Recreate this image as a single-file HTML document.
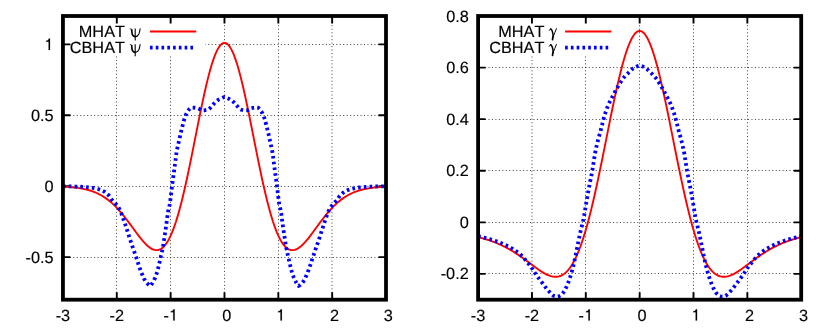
<!DOCTYPE html>
<html><head><meta charset="utf-8"><title>wavelets</title>
<style>html,body{margin:0;padding:0;background:#fff}svg{display:block;will-change:transform}text{font-family:"Liberation Sans",sans-serif;font-size:16.3px;fill:#000;font-kerning:none;text-rendering:geometricPrecision;stroke:#000;stroke-width:0.14px}.one{fill:#000;stroke:#000;stroke-width:8}</style></head><body>
<svg width="830" height="332" viewBox="0 0 830 332">
<rect x="0" y="0" width="830" height="332" fill="#fff"/>
<path d="M116.5,299.7 V16 M170.5,299.7 V16 M224.5,299.7 V16 M278.5,299.7 V16 M332,299.7 V16 M62.95,257.5 H386 M62.95,186.5 H386 M62.95,115.5 H386 M62.95,44.5 H386" fill="none" stroke="#000" stroke-width="0.72" stroke-dasharray="1.05 2.41"/>
<rect x="62.95" y="16" width="142.5" height="40" fill="#fff"/>
<path d="M116.79,299.7 v-7.5 M116.79,16 v7.5 M170.63,299.7 v-7.5 M170.63,16 v7.5 M224.48,299.7 v-7.5 M224.48,16 v7.5 M278.32,299.7 v-7.5 M278.32,16 v7.5 M332.16,299.7 v-7.5 M332.16,16 v7.5 M62.95,257.14 h7.5 M386,257.14 h-7.5 M62.95,186.22 h7.5 M386,186.22 h-7.5 M62.95,115.29 h7.5 M386,115.29 h-7.5 M62.95,44.37 h7.5 M386,44.37 h-7.5" fill="none" stroke="#000" stroke-width="1.9"/>
<clipPath id="c1"><rect x="62.95" y="16" width="323.05" height="283.7"/></clipPath>
<g clip-path="url(#c1)">
<path d="M62.95,186.69 L64.3,186.76 L65.64,186.82 L66.99,186.9 L68.33,186.99 L69.68,187.08 L71.03,187.19 L72.37,187.31 L73.72,187.44 L75.06,187.58 L76.41,187.74 L77.76,187.92 L79.1,188.11 L80.45,188.33 L81.79,188.56 L83.14,188.82 L84.49,189.1 L85.83,189.4 L87.18,189.74 L88.52,190.1 L89.87,190.49 L91.22,190.92 L92.56,191.38 L93.91,191.88 L95.26,192.42 L96.6,193 L97.95,193.62 L99.29,194.29 L100.64,195.01 L101.99,195.77 L103.33,196.59 L104.68,197.46 L106.02,198.38 L107.37,199.36 L108.72,200.39 L110.06,201.48 L111.41,202.64 L112.75,203.85 L114.1,205.11 L115.45,206.44 L116.79,207.83 L118.14,209.27 L119.48,210.77 L120.83,212.32 L122.18,213.92 L123.52,215.57 L124.87,217.26 L126.21,218.99 L127.56,220.76 L128.91,222.56 L130.25,224.38 L131.6,226.21 L132.94,228.05 L134.29,229.9 L135.64,231.73 L136.98,233.55 L138.33,235.33 L139.67,237.08 L141.02,238.77 L142.37,240.4 L143.71,241.95 L145.06,243.41 L146.4,244.77 L147.75,246.01 L149.1,247.12 L150.44,248.08 L151.79,248.88 L153.13,249.5 L154.48,249.93 L155.83,250.16 L157.17,250.17 L158.52,249.95 L159.87,249.48 L161.21,248.75 L162.56,247.76 L163.9,246.48 L165.25,244.92 L166.6,243.07 L167.94,240.91 L169.29,238.44 L170.63,235.66 L171.98,232.57 L173.33,229.17 L174.67,225.45 L176.02,221.43 L177.36,217.1 L178.71,212.49 L180.06,207.59 L181.4,202.42 L182.75,196.99 L184.09,191.32 L185.44,185.43 L186.79,179.33 L188.13,173.06 L189.48,166.63 L190.82,160.07 L192.17,153.41 L193.52,146.68 L194.86,139.9 L196.21,133.11 L197.55,126.34 L198.9,119.62 L200.25,112.99 L201.59,106.48 L202.94,100.12 L204.28,93.95 L205.63,87.99 L206.98,82.29 L208.32,76.87 L209.67,71.76 L211.01,66.99 L212.36,62.59 L213.71,58.58 L215.05,54.99 L216.4,51.83 L217.74,49.12 L219.09,46.89 L220.44,45.14 L221.78,43.88 L223.13,43.12 L224.48,42.87 L225.82,43.12 L227.17,43.88 L228.51,45.14 L229.86,46.89 L231.21,49.12 L232.55,51.83 L233.9,54.99 L235.24,58.58 L236.59,62.59 L237.94,66.99 L239.28,71.76 L240.63,76.87 L241.97,82.29 L243.32,87.99 L244.67,93.95 L246.01,100.12 L247.36,106.48 L248.7,112.99 L250.05,119.62 L251.4,126.34 L252.74,133.11 L254.09,139.9 L255.43,146.68 L256.78,153.41 L258.13,160.07 L259.47,166.63 L260.82,173.06 L262.16,179.33 L263.51,185.43 L264.86,191.32 L266.2,196.99 L267.55,202.42 L268.89,207.59 L270.24,212.49 L271.59,217.1 L272.93,221.43 L274.28,225.45 L275.62,229.17 L276.97,232.57 L278.32,235.66 L279.66,238.44 L281.01,240.91 L282.35,243.07 L283.7,244.92 L285.05,246.48 L286.39,247.76 L287.74,248.75 L289.09,249.48 L290.43,249.95 L291.78,250.17 L293.12,250.16 L294.47,249.93 L295.82,249.5 L297.16,248.88 L298.51,248.08 L299.85,247.12 L301.2,246.01 L302.55,244.77 L303.89,243.41 L305.24,241.95 L306.58,240.4 L307.93,238.77 L309.28,237.08 L310.62,235.33 L311.97,233.55 L313.31,231.73 L314.66,229.9 L316.01,228.05 L317.35,226.21 L318.7,224.38 L320.04,222.56 L321.39,220.76 L322.74,218.99 L324.08,217.26 L325.43,215.57 L326.77,213.92 L328.12,212.32 L329.47,210.77 L330.81,209.27 L332.16,207.83 L333.5,206.44 L334.85,205.11 L336.2,203.85 L337.54,202.64 L338.89,201.48 L340.23,200.39 L341.58,199.36 L342.93,198.38 L344.27,197.46 L345.62,196.59 L346.96,195.77 L348.31,195.01 L349.66,194.29 L351,193.62 L352.35,193 L353.7,192.42 L355.04,191.88 L356.39,191.38 L357.73,190.92 L359.08,190.49 L360.43,190.1 L361.77,189.74 L363.12,189.4 L364.46,189.1 L365.81,188.82 L367.16,188.56 L368.5,188.33 L369.85,188.11 L371.19,187.92 L372.54,187.74 L373.89,187.58 L375.23,187.44 L376.58,187.31 L377.92,187.19 L379.27,187.08 L380.62,186.99 L381.96,186.9 L383.31,186.82 L384.65,186.76 L386,186.69" fill="none" stroke="#f00" stroke-width="1.9" stroke-linejoin="round"/>
<path d="M63,186.3 L64,186.3 L65,186.31 L66,186.32 L67,186.33 L68,186.35 L68.99,186.37 L69.99,186.39 L70.99,186.42 L71.99,186.44 L72.99,186.47 L73.99,186.5 L74.98,186.53 L75.98,186.57 L76.98,186.6 L77.98,186.63 L78.98,186.68 L79.98,186.72 L80.98,186.77 L81.98,186.83 L82.97,186.89 L83.97,186.96 L84.97,187.04 L85.97,187.12 L86.96,187.2 L87.95,187.3 L88.94,187.39 L89.93,187.5 L90.93,187.63 L91.93,187.78 L92.94,187.94 L93.94,188.13 L94.94,188.33 L95.94,188.55 L96.92,188.78 L97.89,189.03 L98.84,189.3 L99.77,189.59 L100.68,189.89 L101.57,190.22 L102.46,190.62 L103.34,191.09 L104.22,191.62 L105.08,192.19 L105.91,192.81 L106.72,193.46 L107.49,194.13 L108.22,194.82 L108.91,195.51 L109.53,196.24 L110.09,197.06 L110.62,197.93 L111.15,198.8 L111.71,199.63 L112.35,200.39 L113.05,201.1 L113.79,201.78 L114.52,202.48 L115.18,203.21 L115.83,203.97 L116.48,204.75 L117.1,205.54 L117.71,206.35 L118.29,207.17 L118.83,208.01 L119.32,208.86 L119.77,209.73 L120.2,210.62 L120.59,211.53 L120.97,212.45 L121.33,213.39 L121.68,214.33 L122.03,215.28 L122.36,216.23 L122.7,217.18 L123.04,218.12 L123.38,219.06 L123.72,220 L124.05,220.94 L124.37,221.89 L124.69,222.83 L125.01,223.78 L125.32,224.73 L125.64,225.68 L125.95,226.63 L126.26,227.58 L126.57,228.52 L126.88,229.47 L127.19,230.42 L127.49,231.38 L127.79,232.33 L128.09,233.28 L128.39,234.23 L128.69,235.19 L129,236.14 L129.3,237.09 L129.61,238.04 L129.93,238.99 L130.24,239.93 L130.56,240.88 L130.87,241.83 L131.19,242.77 L131.51,243.72 L131.84,244.66 L132.16,245.61 L132.48,246.56 L132.8,247.5 L133.13,248.45 L133.45,249.39 L133.77,250.34 L134.1,251.28 L134.42,252.23 L134.75,253.17 L135.07,254.11 L135.4,255.06 L135.72,256 L136.05,256.95 L136.36,257.89 L136.68,258.84 L136.98,259.79 L137.29,260.74 L137.59,261.7 L137.89,262.65 L138.2,263.6 L138.51,264.55 L138.83,265.5 L139.15,266.44 L139.48,267.38 L139.82,268.32 L140.15,269.27 L140.5,270.21 L140.85,271.14 L141.21,272.07 L141.58,273 L141.96,273.92 L142.36,274.84 L142.75,275.77 L143.15,276.71 L143.56,277.65 L143.99,278.57 L144.44,279.47 L144.92,280.34 L145.43,281.18 L145.97,281.97 L146.57,282.71 L147.24,283.43 L147.97,284.12 L148.74,284.77 L149.56,285.4 L150.4,286 L150.99,285.18 L151.57,284.36 L152.12,283.52 L152.65,282.67 L153.16,281.81 L153.64,280.94 L154.1,280.07 L154.52,279.18 L154.91,278.28 L155.29,277.36 L155.64,276.43 L155.98,275.49 L156.31,274.55 L156.62,273.59 L156.91,272.64 L157.2,271.68 L157.48,270.73 L157.74,269.77 L158,268.81 L158.24,267.84 L158.47,266.87 L158.7,265.9 L158.93,264.93 L159.15,263.96 L159.37,262.99 L159.6,262.02 L159.82,261.05 L160.04,260.08 L160.27,259.11 L160.49,258.14 L160.7,257.17 L160.92,256.19 L161.13,255.22 L161.35,254.25 L161.56,253.28 L161.77,252.3 L161.99,251.33 L162.2,250.36 L162.41,249.38 L162.61,248.41 L162.81,247.43 L162.99,246.46 L163.16,245.48 L163.33,244.49 L163.48,243.51 L163.64,242.53 L163.78,241.54 L163.93,240.56 L164.07,239.57 L164.22,238.59 L164.36,237.6 L164.51,236.62 L164.66,235.63 L164.81,234.65 L164.96,233.66 L165.11,232.68 L165.26,231.7 L165.41,230.71 L165.56,229.73 L165.71,228.74 L165.85,227.76 L166,226.77 L166.14,225.79 L166.29,224.8 L166.43,223.82 L166.56,222.83 L166.69,221.84 L166.81,220.85 L166.93,219.86 L167.05,218.87 L167.17,217.88 L167.29,216.9 L167.42,215.91 L167.55,214.92 L167.69,213.94 L167.84,212.95 L168,211.98 L168.19,211 L168.4,210.03 L168.64,209.06 L168.88,208.09 L169.13,207.12 L169.36,206.15 L169.58,205.18 L169.76,204.21 L169.92,203.23 L170.06,202.24 L170.2,201.25 L170.32,200.27 L170.44,199.28 L170.56,198.29 L170.69,197.3 L170.81,196.31 L170.93,195.32 L171.05,194.33 L171.17,193.35 L171.28,192.36 L171.4,191.37 L171.51,190.38 L171.63,189.39 L171.75,188.4 L171.87,187.41 L172,186.43 L172.12,185.44 L172.25,184.45 L172.38,183.47 L172.52,182.48 L172.65,181.49 L172.79,180.51 L172.92,179.52 L173.06,178.53 L173.19,177.55 L173.32,176.56 L173.46,175.57 L173.59,174.59 L173.72,173.6 L173.85,172.61 L173.98,171.63 L174.12,170.64 L174.25,169.65 L174.38,168.67 L174.51,167.68 L174.64,166.69 L174.77,165.71 L174.9,164.72 L175.04,163.73 L175.16,162.74 L175.29,161.76 L175.41,160.77 L175.53,159.78 L175.65,158.79 L175.78,157.8 L175.9,156.81 L176.03,155.82 L176.17,154.84 L176.31,153.85 L176.46,152.87 L176.62,151.89 L176.79,150.91 L176.98,149.93 L177.18,148.96 L177.39,147.99 L177.61,147.01 L177.83,146.04 L178.05,145.07 L178.27,144.1 L178.49,143.13 L178.71,142.16 L178.94,141.19 L179.17,140.22 L179.39,139.25 L179.6,138.28 L179.81,137.3 L180.01,136.33 L180.21,135.35 L180.42,134.38 L180.64,133.41 L180.88,132.44 L181.12,131.47 L181.36,130.51 L181.61,129.54 L181.85,128.58 L182.1,127.61 L182.33,126.65 L182.57,125.68 L182.81,124.71 L183.05,123.75 L183.3,122.78 L183.56,121.82 L183.82,120.86 L184.08,119.89 L184.36,118.93 L184.66,117.99 L184.98,117.05 L185.33,116.12 L185.71,115.18 L186.13,114.26 L186.57,113.35 L187.05,112.48 L187.56,111.66 L188.13,110.81 L188.76,109.87 L189.46,108.97 L190.2,108.22 L190.98,107.73 L191.8,107.6 L192.72,107.63 L193.72,107.68 L194.76,107.76 L195.81,107.86 L196.81,107.98 L197.75,108.19 L198.66,108.64 L199.56,109.2 L200.45,109.75 L201.35,110.19 L202.28,110.4 L203.25,110.38 L204.27,110.29 L205.31,110.16 L206.32,109.99 L207.28,109.78 L208.15,109.55 L208.94,109.14 L209.69,108.52 L210.39,107.75 L211.08,106.93 L211.76,106.1 L212.45,105.35 L213.14,104.62 L213.81,103.86 L214.47,103.1 L215.14,102.36 L215.84,101.66 L216.57,101.02 L217.36,100.44 L218.2,99.9 L219.07,99.39 L219.96,98.91 L220.85,98.47 L221.75,98.06 L222.67,97.67 L223.6,97.32 L224.55,97 L225.4,97.32 L226.33,97.67 L227.25,98.06 L228.15,98.47 L229.04,98.91 L229.93,99.39 L230.8,99.9 L231.64,100.44 L232.43,101.02 L233.16,101.66 L233.86,102.36 L234.53,103.1 L235.19,103.86 L235.86,104.62 L236.55,105.35 L237.24,106.1 L237.92,106.93 L238.61,107.75 L239.31,108.52 L240.06,109.14 L240.85,109.55 L241.72,109.78 L242.68,109.99 L243.69,110.16 L244.73,110.29 L245.75,110.38 L246.72,110.4 L247.65,110.19 L248.55,109.75 L249.44,109.2 L250.34,108.64 L251.25,108.19 L252.19,107.98 L253.19,107.86 L254.24,107.76 L255.28,107.68 L256.28,107.63 L257.2,107.6 L258.02,107.73 L258.8,108.22 L259.54,108.97 L260.24,109.87 L260.87,110.81 L261.44,111.66 L261.95,112.48 L262.43,113.35 L262.87,114.26 L263.29,115.18 L263.67,116.12 L264.02,117.05 L264.34,117.99 L264.64,118.93 L264.92,119.89 L265.18,120.86 L265.44,121.82 L265.7,122.78 L265.95,123.75 L266.19,124.71 L266.43,125.68 L266.67,126.65 L266.9,127.61 L267.15,128.58 L267.39,129.54 L267.64,130.51 L267.88,131.47 L268.12,132.44 L268.36,133.41 L268.58,134.38 L268.79,135.35 L268.99,136.33 L269.19,137.3 L269.4,138.28 L269.61,139.25 L269.83,140.22 L270.06,141.19 L270.29,142.16 L270.51,143.13 L270.73,144.1 L270.95,145.07 L271.17,146.04 L271.39,147.01 L271.61,147.99 L271.82,148.96 L272.02,149.93 L272.21,150.91 L272.38,151.89 L272.54,152.87 L272.69,153.85 L272.83,154.84 L272.97,155.82 L273.1,156.81 L273.22,157.8 L273.35,158.79 L273.47,159.78 L273.59,160.77 L273.71,161.76 L273.84,162.74 L273.96,163.73 L274.1,164.72 L274.23,165.71 L274.36,166.69 L274.49,167.68 L274.62,168.67 L274.75,169.65 L274.88,170.64 L275.02,171.63 L275.15,172.61 L275.28,173.6 L275.41,174.59 L275.54,175.57 L275.68,176.56 L275.81,177.55 L275.94,178.53 L276.08,179.52 L276.21,180.51 L276.35,181.49 L276.48,182.48 L276.62,183.47 L276.75,184.45 L276.88,185.44 L277,186.43 L277.13,187.41 L277.25,188.4 L277.37,189.39 L277.49,190.38 L277.6,191.37 L277.72,192.36 L277.83,193.35 L277.95,194.33 L278.07,195.32 L278.19,196.31 L278.31,197.3 L278.44,198.29 L278.56,199.28 L278.68,200.27 L278.8,201.25 L278.94,202.24 L279.08,203.23 L279.24,204.21 L279.42,205.18 L279.64,206.15 L279.87,207.12 L280.12,208.09 L280.36,209.06 L280.6,210.03 L280.81,211 L281,211.98 L281.16,212.95 L281.31,213.94 L281.45,214.92 L281.58,215.91 L281.71,216.9 L281.83,217.88 L281.95,218.87 L282.07,219.86 L282.19,220.85 L282.31,221.84 L282.44,222.83 L282.57,223.82 L282.71,224.8 L282.86,225.79 L283,226.77 L283.15,227.76 L283.29,228.74 L283.44,229.73 L283.59,230.71 L283.74,231.7 L283.89,232.68 L284.04,233.66 L284.19,234.65 L284.34,235.63 L284.49,236.62 L284.64,237.6 L284.78,238.59 L284.93,239.57 L285.07,240.56 L285.22,241.54 L285.36,242.53 L285.52,243.51 L285.67,244.49 L285.84,245.48 L286.01,246.46 L286.19,247.43 L286.39,248.41 L286.59,249.38 L286.8,250.36 L287.01,251.33 L287.23,252.3 L287.44,253.28 L287.65,254.25 L287.87,255.22 L288.08,256.19 L288.3,257.17 L288.51,258.14 L288.73,259.11 L288.96,260.08 L289.18,261.05 L289.4,262.02 L289.63,262.99 L289.85,263.96 L290.07,264.93 L290.3,265.9 L290.53,266.87 L290.76,267.84 L291,268.81 L291.26,269.77 L291.52,270.73 L291.8,271.68 L292.09,272.64 L292.38,273.59 L292.69,274.55 L293.02,275.49 L293.36,276.43 L293.71,277.36 L294.09,278.28 L294.48,279.18 L294.9,280.07 L295.36,280.94 L295.84,281.81 L296.35,282.67 L296.88,283.52 L297.43,284.36 L298.01,285.18 L298.6,286 L299.44,285.4 L300.26,284.77 L301.03,284.12 L301.76,283.43 L302.43,282.71 L303.03,281.97 L303.57,281.18 L304.08,280.34 L304.56,279.47 L305.01,278.57 L305.44,277.65 L305.85,276.71 L306.25,275.77 L306.64,274.84 L307.04,273.92 L307.42,273 L307.79,272.07 L308.15,271.14 L308.5,270.21 L308.85,269.27 L309.18,268.32 L309.52,267.38 L309.85,266.44 L310.17,265.5 L310.49,264.55 L310.8,263.6 L311.11,262.65 L311.41,261.7 L311.71,260.74 L312.02,259.79 L312.32,258.84 L312.64,257.89 L312.95,256.95 L313.28,256 L313.6,255.06 L313.93,254.11 L314.25,253.17 L314.58,252.23 L314.9,251.28 L315.23,250.34 L315.55,249.39 L315.87,248.45 L316.2,247.5 L316.52,246.56 L316.84,245.61 L317.16,244.66 L317.49,243.72 L317.81,242.77 L318.13,241.83 L318.44,240.88 L318.76,239.93 L319.07,238.99 L319.39,238.04 L319.7,237.09 L320,236.14 L320.31,235.19 L320.61,234.23 L320.91,233.28 L321.21,232.33 L321.51,231.38 L321.81,230.42 L322.12,229.47 L322.43,228.52 L322.74,227.58 L323.05,226.63 L323.36,225.68 L323.68,224.73 L323.99,223.78 L324.31,222.83 L324.63,221.89 L324.95,220.94 L325.28,220 L325.62,219.06 L325.96,218.12 L326.3,217.18 L326.64,216.23 L326.97,215.28 L327.32,214.33 L327.67,213.39 L328.03,212.45 L328.41,211.53 L328.8,210.62 L329.23,209.73 L329.68,208.86 L330.17,208.01 L330.71,207.17 L331.29,206.35 L331.9,205.54 L332.52,204.75 L333.17,203.97 L333.82,203.21 L334.48,202.48 L335.21,201.78 L335.95,201.1 L336.65,200.39 L337.29,199.63 L337.85,198.8 L338.38,197.93 L338.91,197.06 L339.47,196.24 L340.09,195.51 L340.78,194.82 L341.51,194.13 L342.28,193.46 L343.09,192.81 L343.92,192.19 L344.78,191.62 L345.66,191.09 L346.54,190.62 L347.43,190.22 L348.32,189.89 L349.23,189.59 L350.16,189.3 L351.11,189.03 L352.08,188.78 L353.06,188.55 L354.06,188.33 L355.06,188.13 L356.06,187.94 L357.07,187.78 L358.07,187.63 L359.07,187.5 L360.06,187.39 L361.05,187.3 L362.04,187.2 L363.03,187.12 L364.03,187.04 L365.03,186.96 L366.03,186.89 L367.02,186.83 L368.02,186.77 L369.02,186.72 L370.02,186.68 L371.02,186.63 L372.02,186.6 L373.02,186.57 L374.02,186.53 L375.01,186.5 L376.01,186.47 L377.01,186.44 L378.01,186.42 L379.01,186.39 L380.01,186.37 L381,186.35 L382,186.33 L383,186.32 L384,186.31 L385,186.3 L386,186.3" fill="none" stroke="#00f" stroke-width="3.8" stroke-dasharray="2.65 3.13" stroke-linejoin="round"/>
</g>
<rect x="62.95" y="16" width="323.05" height="283.7" fill="none" stroke="#000" stroke-width="3.8"/>
<text x="25.56" y="263.25">-0.5</text>
<text x="44.58" y="192.25">0</text>
<text x="30.99" y="121.25">0.5</text>
<path class="one" aria-label="1" transform="translate(44.18,49.95) scale(0.016300,-0.016300)" d="M359 0H271V505H122V568C205 574 256 609 289 702H359Z"/>
<text x="55.7" y="320.9">-3</text>
<text x="109.55" y="320.9">-2</text>
<text x="163.39" y="320.9">-</text>
<path class="one" aria-label="1" transform="translate(168.81,320.6) scale(0.016300,-0.016300)" d="M359 0H271V505H122V568C205 574 256 609 289 702H359Z"/>
<text x="222.2" y="320.9">0</text>
<path class="one" aria-label="1" transform="translate(276.04,320.6) scale(0.016300,-0.016300)" d="M359 0H271V505H122V568C205 574 256 609 289 702H359Z"/>
<text x="329.89" y="320.9">2</text>
<text x="383.73" y="320.9">3</text>
<text x="124.95" y="36.7" text-anchor="end">MHAT</text>
<text x="124.95" y="52.5" text-anchor="end">CBHAT</text>
<g aria-label="ψ" transform="translate(0,0)" fill="none" stroke="#000" stroke-linecap="round" stroke-linejoin="round"><path d="M135.2,28.4V40.4" stroke-width="1.1" stroke-linecap="butt"/><path d="M131.45,29.3C132.2,30.8 131.5,33.4 132.6,35.0C133.3,36.0 134.2,36.6 135.2,36.6" stroke-width="1.65" stroke-linecap="butt"/><path d="M130.2,28.75L131.9,29.5" stroke-width="0.8"/><path d="M135.2,36.6C136.7,36.6 138.1,35.6 138.9,33.9C139.6,32.2 139.9,30.2 140.1,28.7" stroke-width="1.1"/></g>
<g aria-label="ψ" transform="translate(0,15.8)" fill="none" stroke="#000" stroke-linecap="round" stroke-linejoin="round"><path d="M135.2,28.4V40.4" stroke-width="1.1" stroke-linecap="butt"/><path d="M131.45,29.3C132.2,30.8 131.5,33.4 132.6,35.0C133.3,36.0 134.2,36.6 135.2,36.6" stroke-width="1.65" stroke-linecap="butt"/><path d="M130.2,28.75L131.9,29.5" stroke-width="0.8"/><path d="M135.2,36.6C136.7,36.6 138.1,35.6 138.9,33.9C139.6,32.2 139.9,30.2 140.1,28.7" stroke-width="1.1"/></g>
<path d="M149.95,31.5 h46.3" stroke="#f00" stroke-width="1.9" fill="none"/>
<path d="M149.95,47.7 h43.2" stroke="#00f" stroke-width="3.8" stroke-dasharray="2.65 3.13" fill="none"/>
<path d="M532,299.7 V16 M585.5,299.7 V16 M639.5,299.7 V16 M693.5,299.7 V16 M747.5,299.7 V16 M478.1,273.5 H801.2 M478.1,222.5 H801.2 M478.1,170.5 H801.2 M478.1,119.5 H801.2 M478.1,67.5 H801.2" fill="none" stroke="#000" stroke-width="0.72" stroke-dasharray="1.05 2.41"/>
<rect x="478.1" y="16" width="142.5" height="40" fill="#fff"/>
<path d="M531.95,299.7 v-7.5 M531.95,16 v7.5 M585.8,299.7 v-7.5 M585.8,16 v7.5 M639.65,299.7 v-7.5 M639.65,16 v7.5 M693.5,299.7 v-7.5 M693.5,16 v7.5 M747.35,299.7 v-7.5 M747.35,16 v7.5 M478.1,273.91 h7.5 M801.2,273.91 h-7.5 M478.1,222.33 h7.5 M801.2,222.33 h-7.5 M478.1,170.75 h7.5 M801.2,170.75 h-7.5 M478.1,119.16 h7.5 M801.2,119.16 h-7.5 M478.1,67.58 h7.5 M801.2,67.58 h-7.5" fill="none" stroke="#000" stroke-width="1.9"/>
<clipPath id="c2"><rect x="478.1" y="16" width="323.1" height="283.7"/></clipPath>
<g clip-path="url(#c2)">
<path d="M478.1,237.11 L479.45,237.45 L480.79,237.8 L482.14,238.16 L483.49,238.54 L484.83,238.94 L486.18,239.34 L487.52,239.77 L488.87,240.21 L490.22,240.67 L491.56,241.14 L492.91,241.63 L494.25,242.14 L495.6,242.67 L496.95,243.22 L498.29,243.79 L499.64,244.38 L500.99,245 L502.33,245.63 L503.68,246.29 L505.03,246.97 L506.37,247.67 L507.72,248.39 L509.06,249.14 L510.41,249.91 L511.76,250.71 L513.1,251.52 L514.45,252.36 L515.8,253.22 L517.14,254.11 L518.49,255.01 L519.83,255.93 L521.18,256.87 L522.53,257.83 L523.87,258.8 L525.22,259.79 L526.57,260.78 L527.91,261.79 L529.26,262.8 L530.6,263.81 L531.95,264.82 L533.3,265.83 L534.64,266.83 L535.99,267.81 L537.34,268.77 L538.68,269.72 L540.03,270.63 L541.37,271.51 L542.72,272.34 L544.07,273.13 L545.41,273.86 L546.76,274.53 L548.11,275.13 L549.45,275.66 L550.8,276.09 L552.14,276.44 L553.49,276.67 L554.84,276.8 L556.18,276.81 L557.53,276.68 L558.88,276.42 L560.22,276.01 L561.57,275.44 L562.91,274.7 L564.26,273.79 L565.61,272.69 L566.95,271.4 L568.3,269.91 L569.64,268.22 L570.99,266.31 L572.34,264.18 L573.68,261.82 L575.03,259.23 L576.38,256.4 L577.72,253.34 L579.07,250.03 L580.42,246.49 L581.76,242.7 L583.11,238.67 L584.45,234.4 L585.8,229.89 L587.15,225.15 L588.49,220.19 L589.84,215.01 L591.19,209.61 L592.53,204.03 L593.88,198.25 L595.22,192.29 L596.57,186.18 L597.92,179.92 L599.26,173.54 L600.61,167.04 L601.96,160.45 L603.3,153.79 L604.65,147.07 L605.99,140.34 L607.34,133.59 L608.69,126.86 L610.03,120.18 L611.38,113.56 L612.73,107.04 L614.07,100.63 L615.42,94.36 L616.76,88.26 L618.11,82.35 L619.46,76.66 L620.8,71.21 L622.15,66.03 L623.5,61.12 L624.84,56.53 L626.19,52.26 L627.53,48.34 L628.88,44.78 L630.23,41.6 L631.57,38.82 L632.92,36.44 L634.27,34.48 L635.61,32.94 L636.96,31.84 L638.3,31.18 L639.65,30.96 L641,31.18 L642.34,31.84 L643.69,32.94 L645.04,34.48 L646.38,36.44 L647.73,38.82 L649.07,41.6 L650.42,44.78 L651.77,48.34 L653.11,52.26 L654.46,56.53 L655.81,61.12 L657.15,66.03 L658.5,71.21 L659.84,76.66 L661.19,82.35 L662.54,88.26 L663.88,94.36 L665.23,100.63 L666.58,107.04 L667.92,113.56 L669.27,120.18 L670.61,126.86 L671.96,133.59 L673.31,140.34 L674.65,147.07 L676,153.79 L677.35,160.45 L678.69,167.04 L680.04,173.54 L681.38,179.92 L682.73,186.18 L684.08,192.29 L685.42,198.25 L686.77,204.03 L688.12,209.61 L689.46,215.01 L690.81,220.19 L692.15,225.15 L693.5,229.89 L694.85,234.4 L696.19,238.67 L697.54,242.7 L698.89,246.49 L700.23,250.03 L701.58,253.34 L702.92,256.4 L704.27,259.23 L705.62,261.82 L706.96,264.18 L708.31,266.31 L709.65,268.22 L711,269.91 L712.35,271.4 L713.69,272.69 L715.04,273.79 L716.39,274.7 L717.73,275.44 L719.08,276.01 L720.43,276.42 L721.77,276.68 L723.12,276.81 L724.46,276.8 L725.81,276.67 L727.16,276.44 L728.5,276.09 L729.85,275.66 L731.2,275.13 L732.54,274.53 L733.89,273.86 L735.23,273.13 L736.58,272.34 L737.93,271.51 L739.27,270.63 L740.62,269.72 L741.97,268.77 L743.31,267.81 L744.66,266.83 L746,265.83 L747.35,264.82 L748.7,263.81 L750.04,262.8 L751.39,261.79 L752.74,260.78 L754.08,259.79 L755.43,258.8 L756.77,257.83 L758.12,256.87 L759.47,255.93 L760.81,255.01 L762.16,254.11 L763.51,253.22 L764.85,252.36 L766.2,251.52 L767.54,250.71 L768.89,249.91 L770.24,249.14 L771.58,248.39 L772.93,247.67 L774.28,246.97 L775.62,246.29 L776.97,245.63 L778.31,245 L779.66,244.38 L781.01,243.79 L782.35,243.22 L783.7,242.67 L785.05,242.14 L786.39,241.63 L787.74,241.14 L789.08,240.67 L790.43,240.21 L791.78,239.77 L793.12,239.34 L794.47,238.94 L795.82,238.54 L797.16,238.16 L798.51,237.8 L799.85,237.45 L801.2,237.11" fill="none" stroke="#f00" stroke-width="1.9" stroke-linejoin="round"/>
<path d="M478.1,236.3 L479.08,236.49 L480.06,236.7 L481.04,236.91 L482.02,237.13 L482.99,237.36 L483.96,237.59 L484.93,237.83 L485.89,238.08 L486.86,238.34 L487.82,238.6 L488.78,238.87 L489.73,239.14 L490.69,239.42 L491.64,239.7 L492.59,240 L493.54,240.3 L494.49,240.61 L495.44,240.93 L496.38,241.26 L497.33,241.6 L498.27,241.95 L499.2,242.31 L500.13,242.67 L501.05,243.05 L501.97,243.43 L502.89,243.82 L503.79,244.22 L504.7,244.63 L505.6,245.05 L506.51,245.48 L507.41,245.93 L508.31,246.38 L509.2,246.85 L510.08,247.32 L510.96,247.81 L511.83,248.31 L512.68,248.82 L513.53,249.35 L514.37,249.88 L515.19,250.42 L516,250.98 L516.8,251.56 L517.6,252.16 L518.39,252.78 L519.17,253.42 L519.94,254.08 L520.69,254.74 L521.43,255.43 L522.15,256.12 L522.85,256.82 L523.52,257.54 L524.16,258.3 L524.77,259.08 L525.37,259.89 L525.97,260.69 L526.59,261.48 L527.22,262.25 L527.87,263.02 L528.51,263.78 L529.16,264.54 L529.79,265.31 L530.4,266.1 L530.98,266.9 L531.55,267.72 L532.11,268.54 L532.66,269.38 L533.2,270.21 L533.74,271.05 L534.29,271.89 L534.84,272.73 L535.4,273.55 L535.97,274.37 L536.54,275.19 L537.12,276 L537.7,276.81 L538.28,277.62 L538.87,278.42 L539.47,279.23 L540.07,280.02 L540.67,280.81 L541.28,281.6 L541.89,282.39 L542.49,283.19 L543.08,283.99 L543.67,284.8 L544.25,285.61 L544.84,286.42 L545.44,287.21 L546.06,288 L546.68,288.77 L547.32,289.54 L547.97,290.3 L548.63,291.05 L549.3,291.79 L549.98,292.52 L550.67,293.24 L551.39,293.93 L552.14,294.6 L552.91,295.28 L553.73,295.84 L554.63,296.18 L555.61,296.44 L556.61,296.59 L557.6,296.55 L558.6,296.33 L559.54,296.02 L560.4,295.58 L561.21,294.94 L561.94,294.26 L562.61,293.53 L563.23,292.73 L563.8,291.9 L564.33,291.07 L564.83,290.21 L565.3,289.32 L565.75,288.42 L566.18,287.52 L566.58,286.61 L566.98,285.7 L567.36,284.78 L567.73,283.86 L568.1,282.92 L568.45,281.99 L568.79,281.05 L569.12,280.11 L569.45,279.16 L569.77,278.22 L570.08,277.27 L570.39,276.32 L570.69,275.37 L570.98,274.42 L571.27,273.46 L571.55,272.51 L571.83,271.55 L572.1,270.59 L572.36,269.62 L572.62,268.66 L572.87,267.69 L573.12,266.73 L573.36,265.76 L573.59,264.79 L573.82,263.82 L574.04,262.85 L574.25,261.87 L574.47,260.9 L574.67,259.92 L574.88,258.95 L575.08,257.97 L575.28,256.99 L575.48,256.01 L575.69,255.04 L575.89,254.06 L576.09,253.08 L576.29,252.11 L576.49,251.13 L576.68,250.15 L576.87,249.17 L577.07,248.19 L577.26,247.21 L577.45,246.24 L577.64,245.26 L577.84,244.28 L578.04,243.3 L578.23,242.32 L578.43,241.35 L578.63,240.37 L578.83,239.39 L579.03,238.41 L579.23,237.44 L579.44,236.46 L579.64,235.48 L579.85,234.51 L580.05,233.53 L580.26,232.56 L580.48,231.58 L580.7,230.61 L580.92,229.64 L581.16,228.67 L581.41,227.7 L581.65,226.74 L581.91,225.77 L582.16,224.8 L582.4,223.84 L582.65,222.87 L582.88,221.9 L583.1,220.93 L583.31,219.95 L583.51,218.98 L583.7,218 L583.88,217.02 L584.06,216.04 L584.24,215.06 L584.41,214.08 L584.58,213.1 L584.74,212.11 L584.91,211.13 L585.07,210.14 L585.23,209.16 L585.38,208.17 L585.54,207.19 L585.7,206.2 L585.86,205.22 L586.02,204.23 L586.18,203.25 L586.34,202.26 L586.5,201.28 L586.67,200.29 L586.84,199.31 L587.02,198.33 L587.2,197.35 L587.37,196.37 L587.55,195.38 L587.73,194.4 L587.91,193.42 L588.09,192.44 L588.27,191.46 L588.46,190.48 L588.64,189.5 L588.82,188.52 L589.01,187.54 L589.19,186.56 L589.38,185.58 L589.57,184.6 L589.76,183.62 L589.95,182.64 L590.15,181.66 L590.34,180.69 L590.54,179.71 L590.74,178.73 L590.93,177.75 L591.13,176.77 L591.32,175.79 L591.51,174.82 L591.7,173.84 L591.89,172.86 L592.07,171.88 L592.25,170.9 L592.42,169.91 L592.59,168.93 L592.75,167.95 L592.91,166.96 L593.06,165.97 L593.21,164.99 L593.36,164 L593.51,163.01 L593.66,162.03 L593.8,161.04 L593.95,160.05 L594.1,159.07 L594.26,158.08 L594.41,157.1 L594.57,156.11 L594.74,155.13 L594.91,154.15 L595.08,153.17 L595.26,152.19 L595.45,151.21 L595.65,150.23 L595.85,149.26 L596.06,148.28 L596.28,147.31 L596.5,146.33 L596.73,145.36 L596.96,144.39 L597.19,143.42 L597.43,142.45 L597.67,141.48 L597.91,140.51 L598.16,139.55 L598.41,138.58 L598.67,137.62 L598.95,136.66 L599.23,135.71 L599.52,134.75 L599.8,133.79 L600.07,132.83 L600.33,131.87 L600.59,130.91 L600.83,129.94 L601.07,128.97 L601.31,128 L601.54,127.03 L601.78,126.06 L602.02,125.1 L602.27,124.13 L602.51,123.16 L602.76,122.2 L603,121.23 L603.25,120.26 L603.5,119.29 L603.75,118.33 L604.02,117.37 L604.28,116.41 L604.56,115.45 L604.85,114.5 L605.15,113.55 L605.46,112.6 L605.78,111.65 L606.11,110.71 L606.44,109.76 L606.79,108.83 L607.14,107.89 L607.5,106.96 L607.87,106.04 L608.25,105.12 L608.64,104.21 L609.05,103.3 L609.47,102.4 L609.91,101.5 L610.35,100.61 L610.81,99.72 L611.27,98.83 L611.74,97.95 L612.21,97.06 L612.67,96.18 L613.14,95.3 L613.61,94.42 L614.07,93.54 L614.54,92.65 L615.02,91.77 L615.49,90.9 L615.97,90.02 L616.46,89.15 L616.95,88.28 L617.45,87.42 L617.96,86.56 L618.47,85.71 L618.99,84.86 L619.51,84 L620.04,83.15 L620.57,82.29 L621.11,81.45 L621.66,80.61 L622.22,79.78 L622.79,78.96 L623.38,78.17 L623.99,77.39 L624.61,76.63 L625.27,75.89 L625.96,75.17 L626.67,74.47 L627.4,73.77 L628.13,73.09 L628.87,72.41 L629.59,71.72 L630.31,71.01 L631.03,70.28 L631.76,69.56 L632.5,68.88 L633.27,68.26 L634.07,67.73 L634.92,67.28 L635.8,66.86 L636.71,66.47 L637.66,66.13 L638.64,65.84 L639.65,65.6 L640.66,65.84 L641.64,66.13 L642.59,66.47 L643.5,66.86 L644.38,67.28 L645.23,67.73 L646.03,68.26 L646.8,68.88 L647.54,69.56 L648.27,70.28 L648.99,71.01 L649.71,71.72 L650.43,72.41 L651.17,73.09 L651.9,73.77 L652.63,74.47 L653.34,75.17 L654.03,75.89 L654.69,76.63 L655.31,77.39 L655.92,78.17 L656.51,78.96 L657.08,79.78 L657.64,80.61 L658.19,81.45 L658.73,82.29 L659.26,83.15 L659.79,84 L660.31,84.86 L660.83,85.71 L661.34,86.56 L661.85,87.42 L662.35,88.28 L662.84,89.15 L663.33,90.02 L663.81,90.9 L664.28,91.77 L664.76,92.65 L665.23,93.54 L665.69,94.42 L666.16,95.3 L666.63,96.18 L667.09,97.06 L667.56,97.95 L668.03,98.83 L668.49,99.72 L668.95,100.61 L669.39,101.5 L669.83,102.4 L670.25,103.3 L670.66,104.21 L671.05,105.12 L671.43,106.04 L671.8,106.96 L672.16,107.89 L672.51,108.83 L672.86,109.76 L673.19,110.71 L673.52,111.65 L673.84,112.6 L674.15,113.55 L674.45,114.5 L674.74,115.45 L675.02,116.41 L675.28,117.37 L675.55,118.33 L675.8,119.29 L676.05,120.26 L676.3,121.23 L676.54,122.2 L676.79,123.16 L677.03,124.13 L677.28,125.1 L677.52,126.06 L677.76,127.03 L677.99,128 L678.23,128.97 L678.47,129.94 L678.71,130.91 L678.97,131.87 L679.23,132.83 L679.5,133.79 L679.78,134.75 L680.07,135.71 L680.35,136.66 L680.63,137.62 L680.89,138.58 L681.14,139.55 L681.39,140.51 L681.63,141.48 L681.87,142.45 L682.11,143.42 L682.34,144.39 L682.57,145.36 L682.8,146.33 L683.02,147.31 L683.24,148.28 L683.45,149.26 L683.65,150.23 L683.85,151.21 L684.04,152.19 L684.22,153.17 L684.39,154.15 L684.56,155.13 L684.73,156.11 L684.89,157.1 L685.04,158.08 L685.2,159.07 L685.35,160.05 L685.5,161.04 L685.64,162.03 L685.79,163.01 L685.94,164 L686.09,164.99 L686.24,165.97 L686.39,166.96 L686.55,167.95 L686.71,168.93 L686.88,169.91 L687.05,170.9 L687.23,171.88 L687.41,172.86 L687.6,173.84 L687.79,174.82 L687.98,175.79 L688.17,176.77 L688.37,177.75 L688.56,178.73 L688.76,179.71 L688.96,180.69 L689.15,181.66 L689.35,182.64 L689.54,183.62 L689.73,184.6 L689.92,185.58 L690.11,186.56 L690.29,187.54 L690.48,188.52 L690.66,189.5 L690.84,190.48 L691.03,191.46 L691.21,192.44 L691.39,193.42 L691.57,194.4 L691.75,195.38 L691.93,196.37 L692.1,197.35 L692.28,198.33 L692.46,199.31 L692.63,200.29 L692.8,201.28 L692.96,202.26 L693.12,203.25 L693.28,204.23 L693.44,205.22 L693.6,206.2 L693.76,207.19 L693.92,208.17 L694.07,209.16 L694.23,210.14 L694.39,211.13 L694.56,212.11 L694.72,213.1 L694.89,214.08 L695.06,215.06 L695.24,216.04 L695.42,217.02 L695.6,218 L695.79,218.98 L695.99,219.95 L696.2,220.93 L696.42,221.9 L696.65,222.87 L696.9,223.84 L697.14,224.8 L697.39,225.77 L697.65,226.74 L697.89,227.7 L698.14,228.67 L698.38,229.64 L698.6,230.61 L698.82,231.58 L699.04,232.56 L699.25,233.53 L699.45,234.51 L699.66,235.48 L699.86,236.46 L700.07,237.44 L700.27,238.41 L700.47,239.39 L700.67,240.37 L700.87,241.35 L701.07,242.32 L701.26,243.3 L701.46,244.28 L701.66,245.26 L701.85,246.24 L702.04,247.21 L702.23,248.19 L702.43,249.17 L702.62,250.15 L702.81,251.13 L703.01,252.11 L703.21,253.08 L703.41,254.06 L703.61,255.04 L703.82,256.01 L704.02,256.99 L704.22,257.97 L704.42,258.95 L704.63,259.92 L704.83,260.9 L705.05,261.87 L705.26,262.85 L705.48,263.82 L705.71,264.79 L705.94,265.76 L706.18,266.73 L706.43,267.69 L706.68,268.66 L706.94,269.62 L707.2,270.59 L707.47,271.55 L707.75,272.51 L708.03,273.46 L708.32,274.42 L708.61,275.37 L708.91,276.32 L709.22,277.27 L709.53,278.22 L709.85,279.16 L710.18,280.11 L710.51,281.05 L710.85,281.99 L711.2,282.92 L711.57,283.86 L711.94,284.78 L712.32,285.7 L712.72,286.61 L713.12,287.52 L713.55,288.42 L714,289.32 L714.47,290.21 L714.97,291.07 L715.5,291.9 L716.07,292.73 L716.69,293.53 L717.36,294.26 L718.09,294.94 L718.9,295.58 L719.76,296.02 L720.7,296.33 L721.7,296.55 L722.69,296.59 L723.69,296.44 L724.67,296.18 L725.57,295.84 L726.39,295.28 L727.16,294.6 L727.91,293.93 L728.63,293.24 L729.32,292.52 L730,291.79 L730.67,291.05 L731.33,290.3 L731.98,289.54 L732.62,288.77 L733.24,288 L733.86,287.21 L734.46,286.42 L735.05,285.61 L735.63,284.8 L736.22,283.99 L736.81,283.19 L737.41,282.39 L738.02,281.6 L738.63,280.81 L739.23,280.02 L739.83,279.23 L740.43,278.42 L741.02,277.62 L741.6,276.81 L742.18,276 L742.76,275.19 L743.33,274.37 L743.9,273.55 L744.46,272.73 L745.01,271.89 L745.56,271.05 L746.1,270.21 L746.64,269.38 L747.19,268.54 L747.75,267.72 L748.32,266.9 L748.9,266.1 L749.51,265.31 L750.14,264.54 L750.79,263.78 L751.43,263.02 L752.08,262.25 L752.71,261.48 L753.33,260.69 L753.93,259.89 L754.53,259.08 L755.14,258.3 L755.78,257.54 L756.45,256.82 L757.15,256.12 L757.87,255.43 L758.61,254.74 L759.36,254.08 L760.13,253.42 L760.91,252.78 L761.7,252.16 L762.5,251.56 L763.3,250.98 L764.11,250.42 L764.93,249.88 L765.77,249.35 L766.62,248.82 L767.47,248.31 L768.34,247.81 L769.22,247.32 L770.1,246.85 L770.99,246.38 L771.89,245.93 L772.79,245.48 L773.7,245.05 L774.6,244.63 L775.51,244.22 L776.41,243.82 L777.33,243.43 L778.25,243.05 L779.17,242.67 L780.1,242.31 L781.03,241.95 L781.97,241.6 L782.92,241.26 L783.86,240.93 L784.81,240.61 L785.76,240.3 L786.71,240 L787.66,239.7 L788.61,239.42 L789.57,239.14 L790.52,238.87 L791.48,238.6 L792.44,238.34 L793.41,238.08 L794.37,237.83 L795.34,237.59 L796.31,237.36 L797.28,237.13 L798.26,236.91 L799.24,236.7 L800.22,236.49 L801.2,236.3" fill="none" stroke="#00f" stroke-width="3.8" stroke-dasharray="2.65 3.13" stroke-linejoin="round"/>
</g>
<rect x="478.1" y="16" width="323.1" height="283.7" fill="none" stroke="#000" stroke-width="3.8"/>
<text x="440.71" y="279.25">-0.2</text>
<text x="459.73" y="228.25">0</text>
<text x="446.14" y="176.25">0.2</text>
<text x="446.14" y="125.25">0.4</text>
<text x="446.14" y="73.25">0.6</text>
<text x="446.14" y="22.25">0.8</text>
<text x="470.85" y="320.9">-3</text>
<text x="524.7" y="320.9">-2</text>
<text x="578.55" y="320.9">-</text>
<path class="one" aria-label="1" transform="translate(583.98,320.6) scale(0.016300,-0.016300)" d="M359 0H271V505H122V568C205 574 256 609 289 702H359Z"/>
<text x="637.38" y="320.9">0</text>
<path class="one" aria-label="1" transform="translate(691.23,320.6) scale(0.016300,-0.016300)" d="M359 0H271V505H122V568C205 574 256 609 289 702H359Z"/>
<text x="745.08" y="320.9">2</text>
<text x="798.93" y="320.9">3</text>
<text x="544.35" y="36.7" text-anchor="end">MHAT</text>
<text x="544.35" y="52.5" text-anchor="end">CBHAT</text>
<g aria-label="γ" transform="translate(0,0)" fill="none" stroke="#000" stroke-linecap="round" stroke-linejoin="round"><path d="M549.25,30.4C549.5,29.3 550.2,28.75 551.0,29.0" stroke-width="0.9"/><path d="M550.7,28.95C552.2,29.8 552.9,33.2 553.25,36.3" stroke-width="1.5"/><path d="M556.4,28.7C555.6,31 554.1,34 553.25,36.5" stroke-width="1.0"/><path d="M553.2,36.2C553.0,37.5 552.45,38.8 552.55,39.6" stroke-width="1.75"/></g>
<g aria-label="γ" transform="translate(0,15.8)" fill="none" stroke="#000" stroke-linecap="round" stroke-linejoin="round"><path d="M549.25,30.4C549.5,29.3 550.2,28.75 551.0,29.0" stroke-width="0.9"/><path d="M550.7,28.95C552.2,29.8 552.9,33.2 553.25,36.3" stroke-width="1.5"/><path d="M556.4,28.7C555.6,31 554.1,34 553.25,36.5" stroke-width="1.0"/><path d="M553.2,36.2C553.0,37.5 552.45,38.8 552.55,39.6" stroke-width="1.75"/></g>
<path d="M565.1,31.5 h46.3" stroke="#f00" stroke-width="1.9" fill="none"/>
<path d="M565.1,47.7 h43.2" stroke="#00f" stroke-width="3.8" stroke-dasharray="2.65 3.13" fill="none"/>
</svg></body></html>
